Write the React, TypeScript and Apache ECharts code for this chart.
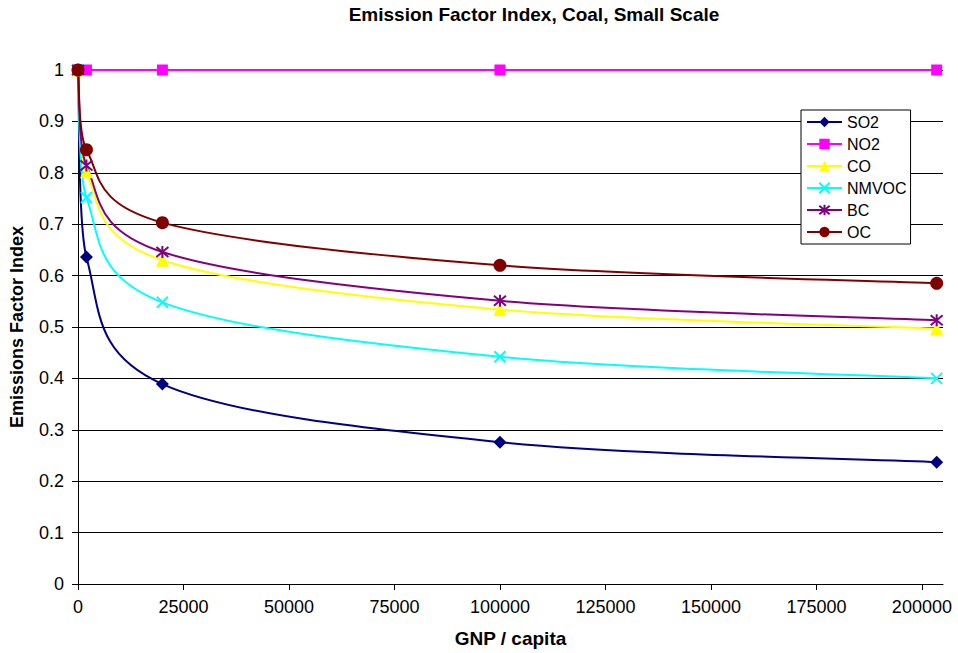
import React, { useEffect, useRef } from "react";
import * as echarts from "echarts";

const gnp = [0, 2000, 20000, 100000, 203500];
const so2 = [1, 0.636, 0.389, 0.276, 0.237];
const no2 = [1, 1, 1, 1, 1];
const co = [1, 0.802, 0.63, 0.534, 0.497];
const nmvoc = [1, 0.752, 0.548, 0.442, 0.4];
const bc = [1, 0.814, 0.646, 0.551, 0.513];
const oc = [1, 0.845, 0.703, 0.62, 0.585];
const xTicks = [0, 25000, 50000, 75000, 100000, 125000, 150000, 175000, 200000];

const FONT = 'Arial, "Liberation Sans", sans-serif';

const X_PATH = "path://M0,0L10,10M10,0L0,10";
const STAR_PATH = "path://M0,0L10,10M10,0L0,10M5,-1L5,11";

type Pt = [number, number];

// Excel-like smoothed segment (Catmull-Rom, tension 1/6), control points kept within the segment's x range
function segment(pts: Pt[], i: number) {
  const n = pts.length;
  const a = pts[i];
  const b = pts[i + 1];
  const prev = pts[Math.max(i - 1, 0)];
  const next = pts[Math.min(i + 2, n - 1)];
  const clampVec = (base: Pt, v: Pt, lo: number, hi: number): Pt => {
    let k = 1;
    const tx = base[0] + v[0];
    if (tx < lo && v[0] !== 0) k = Math.min(k, (lo - base[0]) / v[0]);
    if (tx > hi && v[0] !== 0) k = Math.min(k, (hi - base[0]) / v[0]);
    return [base[0] + v[0] * k, base[1] + v[1] * k];
  };
  const lo = Math.min(a[0], b[0]);
  const hi = Math.max(a[0], b[0]);
  const c1 = clampVec(a, [(b[0] - prev[0]) / 6, (b[1] - prev[1]) / 6], lo, hi);
  const c2 = clampVec(b, [-(next[0] - a[0]) / 6, -(next[1] - a[1]) / 6], lo, hi);
  return { x1: a[0], y1: a[1], cpx1: c1[0], cpy1: c1[1], cpx2: c2[0], cpy2: c2[1], x2: b[0], y2: b[1] };
}

export default function App() {
  const ref = useRef<HTMLDivElement>(null);
  useEffect(() => {
    if (!ref.current) return;
    const chart = echarts.init(ref.current, undefined, { renderer: "svg" });

    const defs = [
      { name: "SO2", vals: so2, color: "#000080", symbol: "diamond", size: 13, stroke: false },
      { name: "NO2", vals: no2, color: "#FF00FF", symbol: "rect", size: 11, stroke: false },
      { name: "CO", vals: co, color: "#FFFF00", symbol: "triangle", size: 13, stroke: false },
      { name: "NMVOC", vals: nmvoc, color: "#00FFFF", symbol: X_PATH, size: 11, stroke: true },
      { name: "BC", vals: bc, color: "#800080", symbol: STAR_PATH, size: 12, stroke: true },
      { name: "OC", vals: oc, color: "#800000", symbol: "circle", size: 13, stroke: false },
    ];

    const curves = defs.map((d) => ({
      name: d.name + " curve",
      type: "custom",
      data: gnp.map((x, i) => [x, d.vals[i]]),
      encode: { x: 0, y: 1 },
      clip: false,
      silent: true,
      renderItem: (params: any, api: any) => {
        const i = params.dataIndex;
        if (i >= gnp.length - 1) return null;
        const pts: Pt[] = gnp.map((x, j) => api.coord([x, d.vals[j]]) as Pt);
        return {
          type: "bezierCurve",
          shape: segment(pts, i),
          style: { stroke: d.color, lineWidth: 2, fill: "none" },
        };
      },
    }));

    const markers = defs.map((d) => ({
      name: d.name,
      type: "line",
      data: gnp.map((x, i) => [x, d.vals[i]]),
      clip: false,
      symbol: d.symbol,
      symbolSize: d.size,
      showSymbol: true,
      lineStyle: { color: d.color, width: 2, opacity: 0 },
      itemStyle: d.stroke
        ? { color: "rgba(0,0,0,0)", borderColor: d.color, borderWidth: 2 }
        : { color: d.color, borderWidth: 0 },
      emphasis: { disabled: true },
    }));

    chart.setOption({
      animation: false,
      backgroundColor: "#fff",
      textStyle: { fontFamily: FONT },
      title: {
        text: "Emission Factor Index, Coal, Small Scale",
        left: 529,
        top: 0,
        textAlign: "center",
        textStyle: { fontFamily: FONT, fontSize: 19, fontWeight: "bold", color: "#000" },
      },
      legend: {
        orient: "vertical",
        left: 801,
        top: 110,
        padding: [4, 4, 4, 5],
        itemWidth: 35,
        itemHeight: 13,
        itemGap: 6,
        borderColor: "#000",
        borderWidth: 1,
        backgroundColor: "#fff",
        textStyle: { fontFamily: FONT, fontSize: 16, color: "#000" },
        data: defs.map((d) => ({
          name: d.name,
          lineStyle: { color: d.color, width: 2, opacity: 1 },
        })),
      },
      grid: { left: 78, right: 15, top: 70, bottom: 69 },
      xAxis: {
        type: "value",
        min: 0,
        max: 205000,
        name: "GNP / capita",
        nameLocation: "middle",
        nameGap: 45,
        nameTextStyle: { fontFamily: FONT, fontSize: 19, fontWeight: "bold", color: "#000" },
        axisLine: { show: true, lineStyle: { color: "#000", width: 1 } },
        axisTick: { show: true, length: 6, lineStyle: { color: "#000" }, customValues: xTicks },
        axisLabel: {
          fontFamily: FONT,
          fontSize: 18,
          color: "#000",
          margin: 14,
          customValues: xTicks,
          formatter: (v: number) => String(v),
        },
        splitLine: { show: false },
      },
      yAxis: {
        type: "value",
        min: 0,
        max: 1,
        interval: 0.1,
        name: "Emissions Factor Index",
        nameLocation: "middle",
        nameGap: 52,
        nameTextStyle: { fontFamily: FONT, fontSize: 18, fontWeight: "bold", color: "#000" },
        axisLine: { show: true, lineStyle: { color: "#000", width: 1 } },
        axisTick: { show: true, length: 6, lineStyle: { color: "#000" } },
        axisLabel: { fontFamily: FONT, fontSize: 18, color: "#000", margin: 14 },
        splitLine: { show: true, lineStyle: { color: "#000", width: 1 } },
      },
      series: [...curves, ...markers],
    });
    return () => chart.dispose();
  }, []);
  return (
    <div
      ref={ref}
      style={{ position: "fixed", left: 0, top: 0, width: 958, height: 653, background: "#fff" }}
    />
  );
}
